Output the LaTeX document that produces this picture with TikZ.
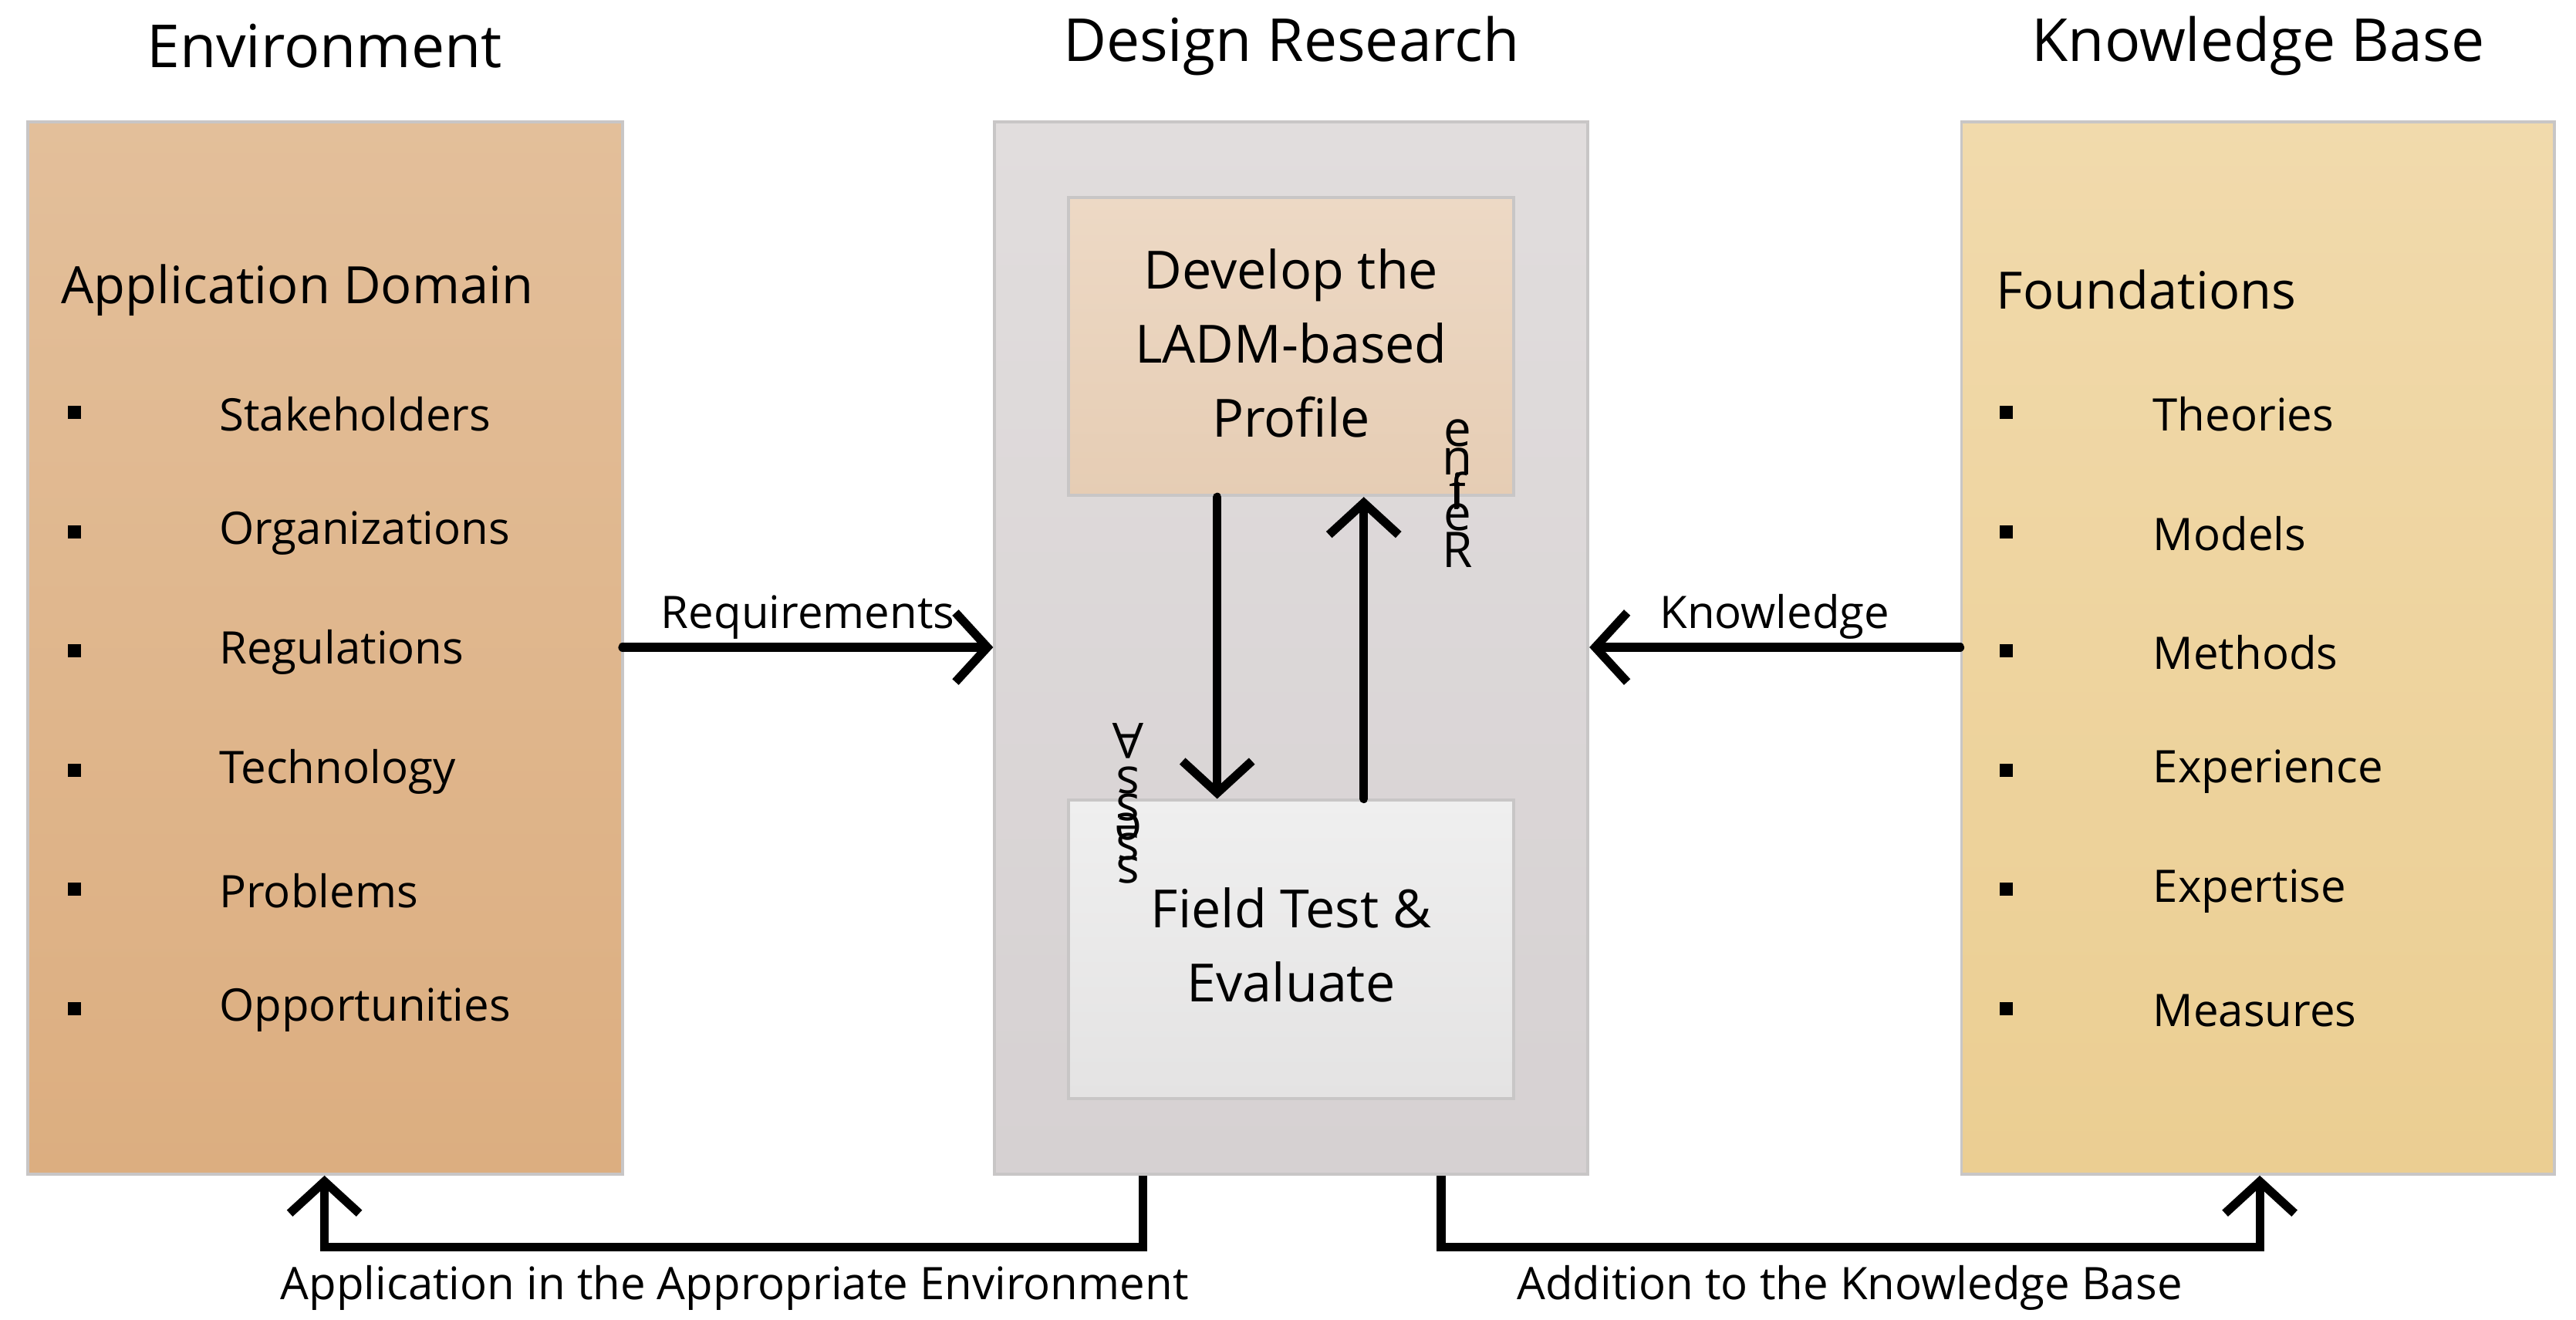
\documentclass[tikz,border=0pt]{standalone}
\usepackage{fontspec}
\setmainfont{Open Sans}
\usetikzlibrary{arrows.meta}
\definecolor{envtop}{HTML}{E3BF9A}
\definecolor{envbot}{HTML}{DCAE80}
\definecolor{kbtop}{HTML}{F1DAAC}
\definecolor{kbbot}{HTML}{EBCE92}
\definecolor{drtop}{HTML}{E1DDDD}
\definecolor{drbot}{HTML}{D6D1D2}
\definecolor{devtop}{HTML}{EDD9C5}
\definecolor{devbot}{HTML}{E6CDB4}
\definecolor{fttop}{HTML}{EFEFEF}
\definecolor{ftbot}{HTML}{E4E3E3}
\definecolor{edge}{HTML}{C8C6C6}
\tikzset{
  box/.style={draw=edge, line width=1pt, anchor=north west, inner sep=0pt},
  barb/.style={-{Straight Barb[length=11pt,width=24pt,line width=3pt]}},
  flow/.style={barb, line width=3pt, line cap=round},
  link/.style={barb, line width=3pt, line join=miter},
  title/.style={font=\fontsize{20.5}{25}\selectfont},
  head/.style={anchor=west, font=\fontsize{17.8}{21}\selectfont},
  item/.style={anchor=west, font=\fontsize{15.5}{18}\selectfont},
  lab/.style={font=\fontsize{15.5}{18}\selectfont},
  glyph/.style={inner sep=0pt, font=\fontsize{17}{18}\selectfont},
  stage/.style={align=center, font=\fontsize{18.2}{25.5}\selectfont},
}
\begin{document}
\begin{tikzpicture}[x=0.02cm, y=-0.02cm]
\useasboundingbox (0,0) rectangle (1564,801);
% columns
\node[box, minimum width=361*0.02cm, minimum height=639*0.02cm, top color=envtop, bottom color=envbot] (env) at (16,73) {};
\node[box, minimum width=360*0.02cm, minimum height=639*0.02cm, top color=drtop, bottom color=drbot] (dr) at (603,73) {};
\node[box, minimum width=360*0.02cm, minimum height=639*0.02cm, top color=kbtop, bottom color=kbbot] (kb) at (1190,73) {};
\node[box, minimum width=270*0.02cm, minimum height=181*0.02cm, top color=devtop, bottom color=devbot] (dev) at (648,119) {};
\node[box, minimum width=270*0.02cm, minimum height=181*0.02cm, top color=fttop, bottom color=ftbot] (ft) at (648,485) {};
\node[stage] at ([yshift=0.04cm]dev.center) {Develop the\\LADM-based\\Profile};
\node[stage] at ([yshift=0.05cm]ft.center) {Field Test \&\\Evaluate};
% titles
\node[title] at (197,28) {Environment};
\node[title] at (784,28) {Design Research};
\node[title] at (1371,28) {Knowledge Base};
\node[head] at (31,176) {Application Domain};
\node[head] at (1206,176) {Foundations};
\foreach \t [count=\i] in {Stakeholders,Organizations,Regulations,Technology,Problems,Opportunities}
  {\node[item] at (127,179+72.4*\i) {\t};
   \fill (41,174+72.4*\i) rectangle (49,182+72.4*\i);}
\foreach \t [count=\i] in {Theories,Models,Methods,Experience,Expertise,Measures}
  {\node[item] at (1301,179+72.4*\i) {\t};
   \fill (1214,174+72.4*\i) rectangle (1222,182+72.4*\i);}
% stacked labels
\foreach \c/\y in {R/334,e/314,f/298,i/298,n/280,e/263}
  \node[glyph] at (885,\y) {\c};
\foreach \c/\y in {A/450,s/474,s/490,e/502,s/514,s/528}
  \node[glyph, rotate=180] at (685,\y) {\c};
% connectors
\coordinate (req) at (378,393);
\coordinate (reqe) at (603,393);
\coordinate (know) at (1190,393);
\coordinate (knowe) at (965,393);
\draw[flow] (req) -- node[lab, above=-2pt] {Requirements} (reqe);
\draw[flow] (know) -- node[lab, above=-2pt] {Knowledge} (knowe);
\draw[flow] (dev.south -| 739,0) -- (ft.north -| 739,0);
\draw[flow] (ft.north -| 828,0) -- (dev.south -| 828,0);
\draw[link] (dr.south -| 694,0) |- (197,757) -- (env.south -| 197,0);
\draw[link] (dr.south -| 875,0) |- (1372,757) -- (kb.south -| 1372,0);
\node[lab] at (446,782) {Application in the Appropriate Environment};
\node[lab] at (1123,782) {Addition to the Knowledge Base};
\end{tikzpicture}
\end{document}
